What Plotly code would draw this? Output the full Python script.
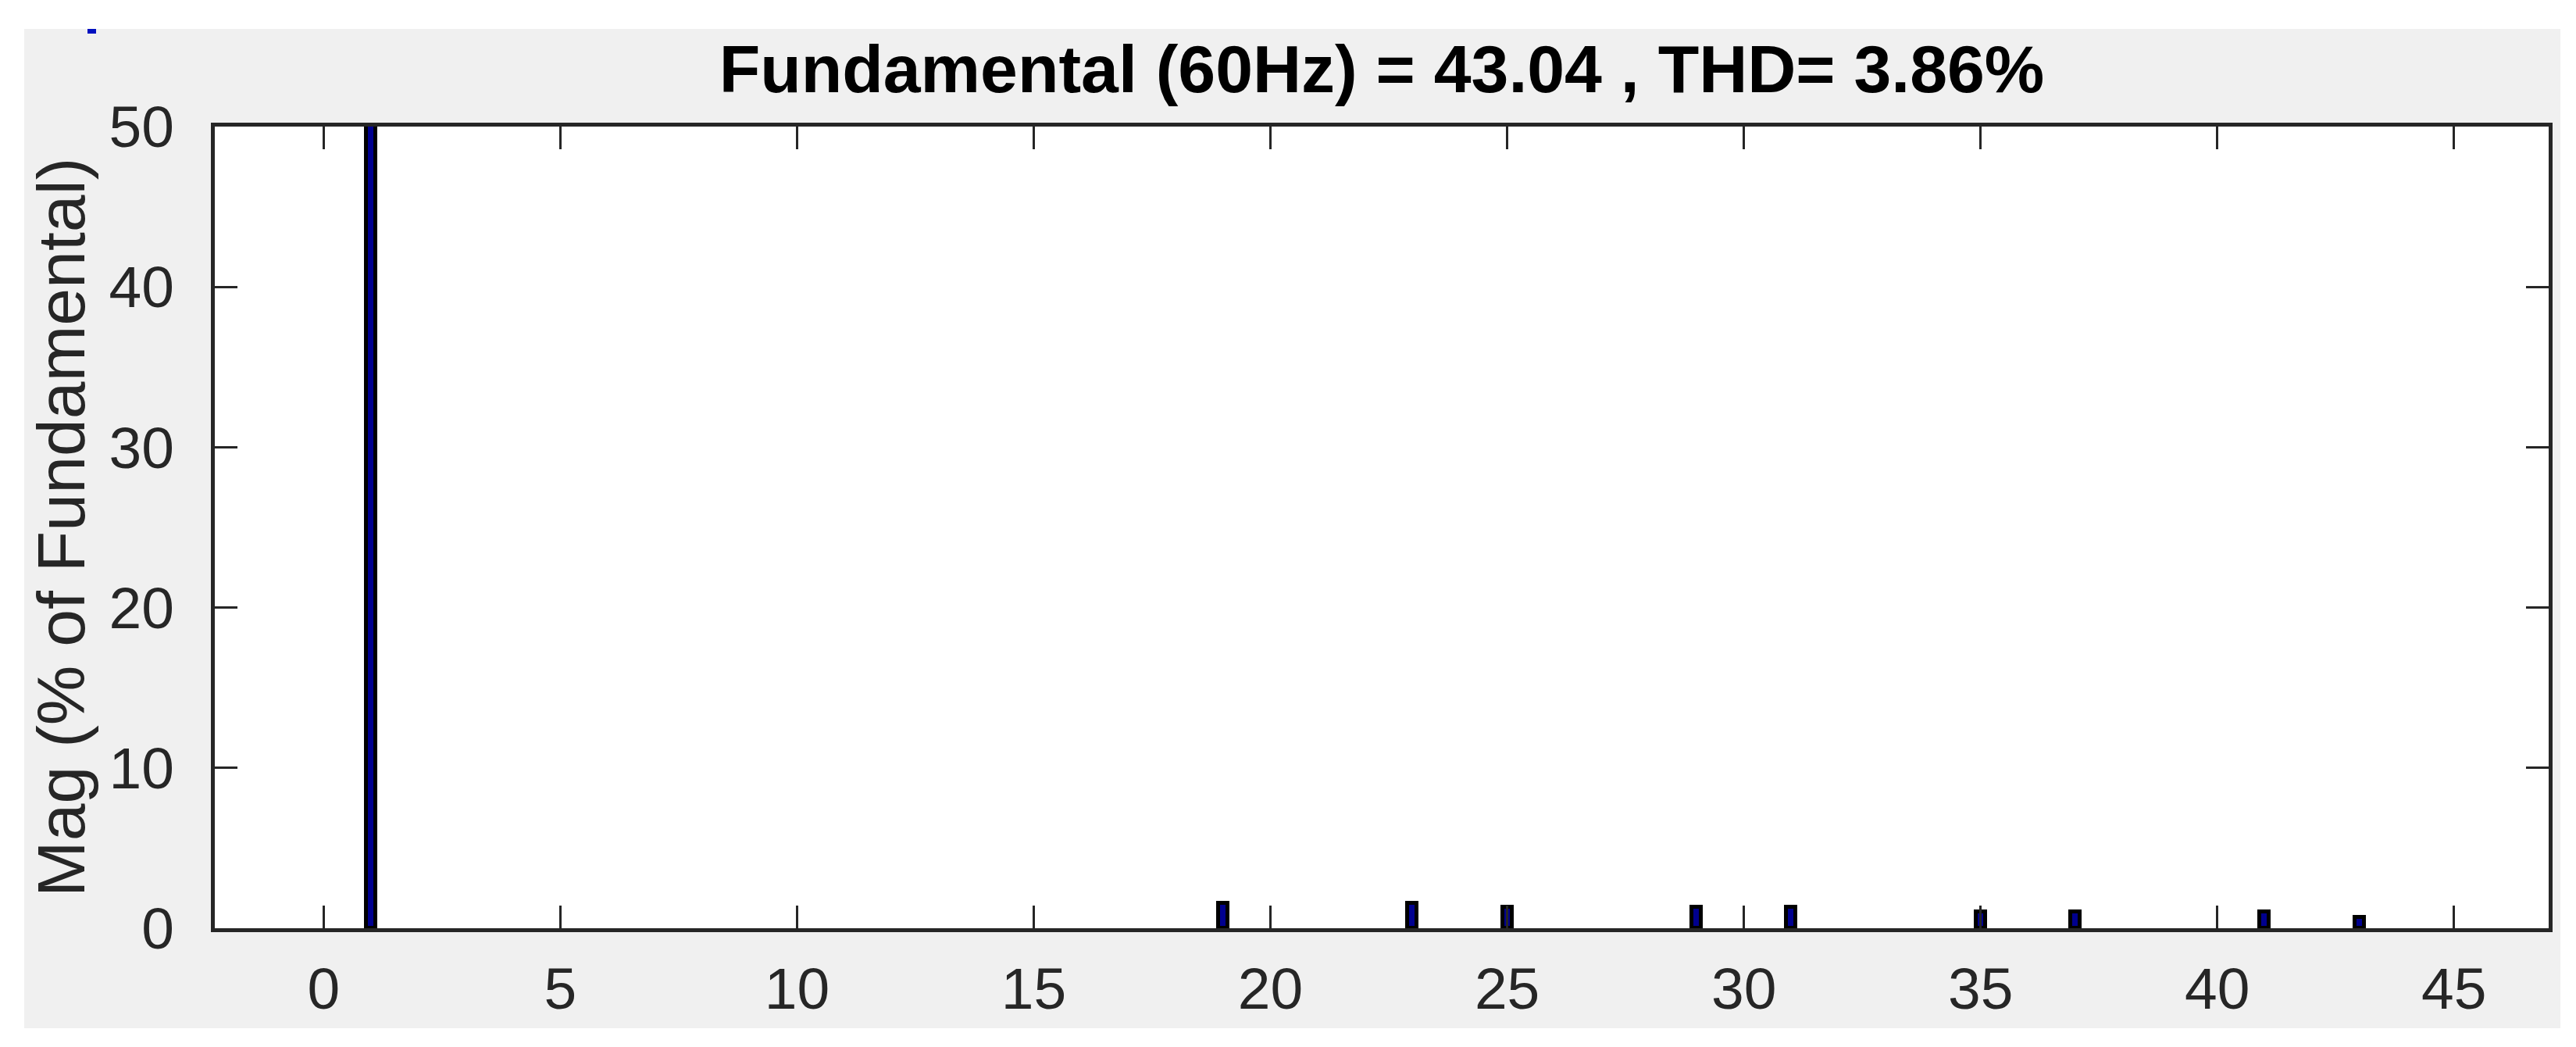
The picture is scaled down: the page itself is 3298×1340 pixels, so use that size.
import plotly.graph_objects as go

# harmonic spectrum
harmonic_order = [1, 19, 23, 25, 29, 31, 35, 37, 41, 43]
mag_pct = [100, 1.55, 1.55, 1.3, 1.3, 1.3, 1.0, 1.0, 1.0, 0.7]
x_ticks = [0, 5, 10, 15, 20, 25, 30, 35, 40, 45]
y_ticks = [0, 10, 20, 30, 40, 50]
title_text = 'Fundamental (60Hz) = 43.04 , THD= 3.86%'
ylabel_text = 'Mag (% of Fundamental)'

W, H = 3298, 1340
L, R, T, B = 267, 3255, 154, 1180  # plot box in pixels
FONT = 'Liberation Sans, Arial, Helvetica, sans-serif'
AXC = '#262626'

def px_x(p):
	return (p - L) / (R - L)

def px_y(p):
	return (B - p) / (B - T)

fig = go.Figure(
	data=[
		go.Bar(
			x=harmonic_order,
			y=mag_pct,
			width=0.2,
			marker=dict(color='#00008f', line=dict(color='black', width=5)),
			showlegend=False,
		)
	]
)

axis_common = dict(
	showgrid=False, zeroline=False,
	showline=True, linecolor=AXC, linewidth=5, mirror='ticks',
	ticks='inside', ticklen=29, tickwidth=3, tickcolor=AXC,
	tickfont=dict(family=FONT, size=75, color=AXC),
)

fig.update_xaxes(range=[-2.3, 47], tickvals=x_ticks, ticklabelstandoff=8, **axis_common)
fig.update_yaxes(range=[0, 50], tickvals=y_ticks, ticklabelstandoff=32, **axis_common)

fig.update_layout(
	width=W, height=H,
	margin=dict(l=L, r=W - R, t=T, b=H - B, pad=0),
	paper_bgcolor='white',
	plot_bgcolor='white',
	bargap=0,
	title=dict(
		text='<b>' + title_text + '</b>',
		font=dict(family=FONT, size=86, color='black'),
		x=0.5, xref='paper', xanchor='center',
		y=1 - 80 / H, yref='container', yanchor='middle',
	),
	shapes=[
		# grey figure background, then white axes area on top of it
		dict(type='rect', xref='paper', yref='paper', layer='below',
			x0=px_x(23), x1=px_x(3270), y0=px_y(1308), y1=px_y(29),
			fillcolor='#f0f0f0', line=dict(width=0)),
		dict(type='rect', xref='paper', yref='paper', layer='below',
			x0=0, x1=1, y0=0, y1=1,
			fillcolor='white', line=dict(width=0)),
		# small stray blue mark at the top-left corner of the grey frame
		dict(type='rect', xref='paper', yref='paper', layer='below',
			x0=px_x(104), x1=px_x(115), y0=px_y(35), y1=px_y(29),
			fillcolor='#0010c0', line=dict(width=0)),
	],
	annotations=[
		dict(text=ylabel_text, textangle=-90, showarrow=False,
			xref='paper', yref='paper', x=px_x(70), y=0.5,
			xanchor='center', yanchor='middle',
			font=dict(family=FONT, size=86, color=AXC)),
	],
)

fig.write_html('out.html')
